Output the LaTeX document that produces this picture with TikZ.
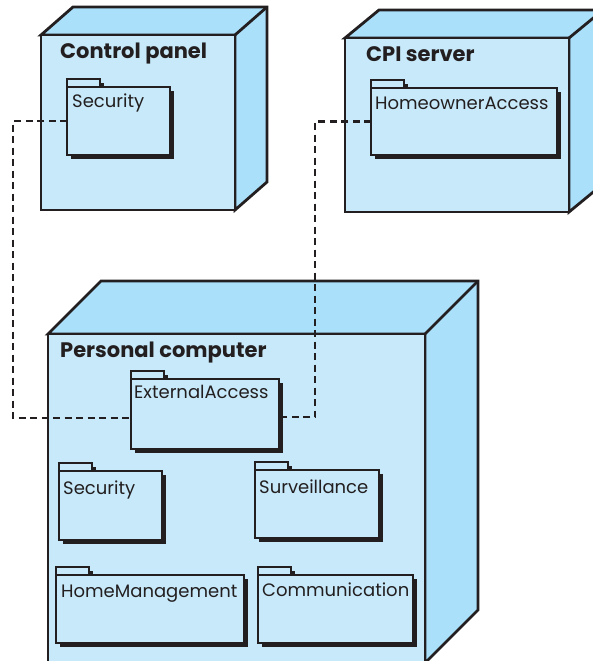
\documentclass[tikz,border=0pt]{standalone}
\usepackage{fontspec}
\setmainfont{Poppins}
\usetikzlibrary{shadows,backgrounds}

\definecolor{facefront}{RGB}{199,233,249}
\definecolor{faceside}{RGB}{170,224,250}
\definecolor{inkdark}{RGB}{35,31,32}

% top and side faces behind a front node
\newcommand{\cubefaces}[3]{%
  \begin{scope}[on background layer]
    \draw[cubeline, fill=faceside] (#1.north west) -- ++(#2,#3) -- ([shift={(#2,#3)}]#1.north east)
      -- ([shift={(#2,#3)}]#1.south east) -- (#1.south east) -- (#1.north east) -- cycle;
    \draw[cubeline] (#1.north east) -- ++(#2,#3);
  \end{scope}}

% folder tab on top of a package
\newcommand{\pkgtab}[1]{%
  \fill[inkdark] ([shift={(4,-4)}]#1.north west) rectangle ++(33,4);
  \draw[tabline] (#1.north west) rectangle ++(33,-8);}

\begin{document}
\begin{tikzpicture}[x=1pt, y=-1pt,
    cubeline/.style={draw=inkdark, line width=2.8pt, line join=miter},
    nodefront/.style={cubeline, fill=facefront, anchor=north west, inner sep=0, outer sep=0},
    nodetitle/.style={anchor=base west, inner sep=0, text=inkdark, font=\bfseries\fontsize{21}{25}\selectfont},
    pkgbox/.style={draw=inkdark, line width=2.4pt, fill=facefront, anchor=north west, inner sep=0, outer sep=0,
      drop shadow={shadow xshift=4pt, shadow yshift=-4pt, fill=inkdark, opacity=1}},
    pkgname/.style={anchor=base west, inner sep=0, text=inkdark, font=\fontsize{18}{22}\selectfont},
    tabline/.style={draw=inkdark, line width=2pt, fill=facefront},
    dep/.style={draw=inkdark, line width=2.4pt, dash pattern=on 7pt off 4.5pt}]
  \useasboundingbox (0,0) rectangle (593,661);
  \clip (0,0) rectangle (593,661);

  % nodes
  \node[nodefront, minimum width=194pt, minimum height=175pt] (cp) at (41,35) {};
  \cubefaces{cp}{32}{-28}
  \node[nodefront, minimum width=224pt, minimum height=174pt] (cpi) at (345,38) {};
  \cubefaces{cpi}{34}{-28}
  \node[nodefront, minimum width=377pt, minimum height=329pt] (pc) at (48,334) {};
  \cubefaces{pc}{53}{-53}

  \node[nodetitle] (cpTitle) at ([shift={(19,24)}]cp.north west) {Control panel};
  \node[nodetitle] (cpiTitle) at ([shift={(21,24)}]cpi.north west) {CPI server};
  \node[nodetitle] (pcTitle) at ([shift={(12,23)}]pc.north west) {Personal computer};

  % packages
  \node[pkgbox, minimum width=103pt, minimum height=68pt] (cpSec) at (67,87) {};
  \node[pkgbox, minimum width=186pt, minimum height=67pt] (homeAcc) at (371,88) {};
  \node[pkgbox, minimum width=148pt, minimum height=70pt] (extAcc) at (131,379) {};
  \node[pkgbox, minimum width=103pt, minimum height=69pt] (pcSec) at (59,471) {};
  \node[pkgbox, minimum width=124pt, minimum height=68pt] (surv) at (255,470) {};
  \node[pkgbox, minimum width=188pt, minimum height=68pt] (homeMgmt) at (56,575) {};
  \node[pkgbox, minimum width=155pt, minimum height=68pt] (comm) at (258,575) {};
  \foreach \p in {cpSec,homeAcc,extAcc,pcSec,surv,homeMgmt,comm}
    {\pkgtab{\p}}

  \node[pkgname] (cpSecName) at ([shift={(5,20)}]cpSec.north west) {Security};
  \node[pkgname] (homeAccName) at ([shift={(4,21)}]homeAcc.north west) {HomeownerAccess};
  \node[pkgname] (extAccName) at ([shift={(3,19)}]extAcc.north west) {ExternalAccess};
  \node[pkgname] (pcSecName) at ([shift={(4,23)}]pcSec.north west) {Security};
  \node[pkgname] (survName) at ([shift={(4,23)}]surv.north west) {Surveillance};
  \node[pkgname] (homeMgmtName) at ([shift={(5,22)}]homeMgmt.north west) {HomeManagement};
  \node[pkgname] (commName) at ([shift={(4,21)}]comm.north west) {Communication};

  % dependencies
  \coordinate (leftBus) at (13,0);
  \coordinate (rightBus) at (315,0);
  \draw[dep] (cpSec.west) -- (cpSec.west -| leftBus) |- ([yshift=-4pt]extAcc.west);
  \draw[dep] (homeAcc.west) -- (homeAcc.west -| rightBus) |- ([yshift=-3pt]extAcc.east);
\end{tikzpicture}
\end{document}
